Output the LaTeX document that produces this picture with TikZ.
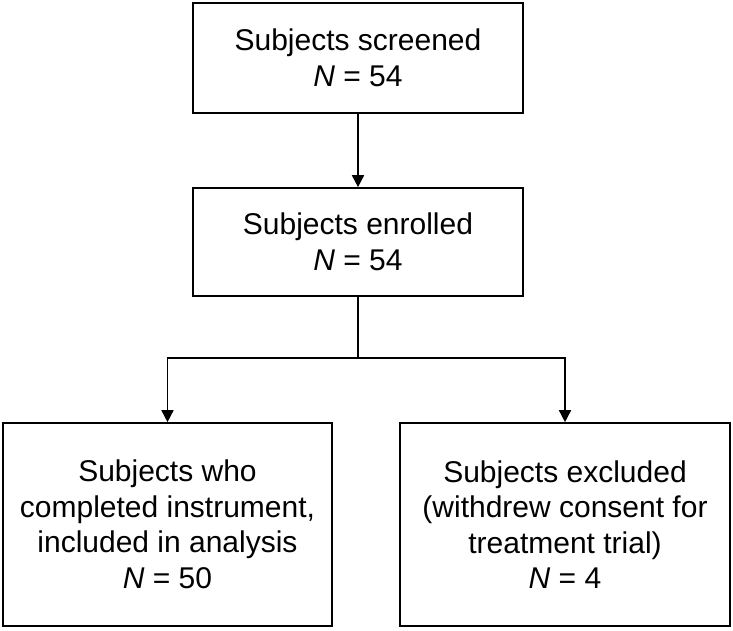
\documentclass[tikz,border=0pt]{standalone}
\usepackage{fontspec}
\setmainfont{Liberation Sans}
\usetikzlibrary{arrows.meta, positioning, calc}

\begin{document}
\begin{tikzpicture}[x=1pt, y=1pt, >={Triangle[width=12pt, length=12pt]},
    box/.style={draw=black, line width=1.6pt, minimum width=330pt, align=center, inner sep=0pt,
      font=\fontsize{30}{35.5}\selectfont},
    link/.style={line width=1.6pt}]
      \useasboundingbox (0, 0) rectangle (733, 631);

      \node[box, minimum height=110pt] (screened) at (358, 573) {Subjects screened\\\textit{N} = 54};
      \node[box, minimum height=108pt] (enrolled) at (358, 389) {Subjects enrolled\\\textit{N} = 54};

      \node[box, minimum width=329pt, minimum height=203pt] (included) at (167.5, 106.5) {Subjects who\\completed instrument,\\included in analysis\\\textit{N} = 50};
      \node[box, minimum height=203pt] (excluded) at (565, 106.5) {Subjects excluded\\(withdrew consent for\\treatment trial)\\\textit{N} = 4};

      \draw[link, ->] (screened) -- (enrolled);
      \draw[link] (enrolled.south) -- ++(0, -61) coordinate (split);
      \draw[link, ->] (split) -| (included.north);
      \draw[link, ->] (split) -| (excluded.north);
\end{tikzpicture}
\end{document}
